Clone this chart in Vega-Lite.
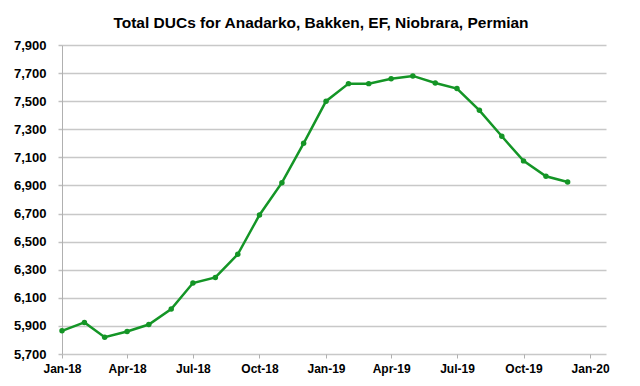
{
  "$schema": "https://vega.github.io/schema/vega-lite/v6.json",
  "width": 544,
  "height": 309,
  "autosize": "none",
  "padding": {"left": 62, "top": 45, "right": 34, "bottom": 32},
  "background": "white",
  "title": {
    "text": "Total DUCs for Anadarko, Bakken, EF, Niobrara, Permian",
    "font": "Liberation Sans",
    "fontSize": 15.5,
    "fontWeight": "bold",
    "color": "#000000",
    "anchor": "middle",
    "frame": "group",
    "baseline": "alphabetic",
    "offset": -4,
    "dx": -13
  },
  "data": {
    "values": [
      {"month": "2018/01/01", "ducs": 5865},
      {"month": "2018/02/01", "ducs": 5925},
      {"month": "2018/03/01", "ducs": 5820},
      {"month": "2018/04/01", "ducs": 5860},
      {"month": "2018/05/01", "ducs": 5910},
      {"month": "2018/06/01", "ducs": 6020},
      {"month": "2018/07/01", "ducs": 6205},
      {"month": "2018/08/01", "ducs": 6245},
      {"month": "2018/09/01", "ducs": 6410},
      {"month": "2018/10/01", "ducs": 6690},
      {"month": "2018/11/01", "ducs": 6920},
      {"month": "2018/12/01", "ducs": 7200},
      {"month": "2019/01/01", "ducs": 7500},
      {"month": "2019/02/01", "ducs": 7625},
      {"month": "2019/03/01", "ducs": 7625},
      {"month": "2019/04/01", "ducs": 7660},
      {"month": "2019/05/01", "ducs": 7680},
      {"month": "2019/06/01", "ducs": 7630},
      {"month": "2019/07/01", "ducs": 7590},
      {"month": "2019/08/01", "ducs": 7435},
      {"month": "2019/09/01", "ducs": 7250},
      {"month": "2019/10/01", "ducs": 7075},
      {"month": "2019/11/01", "ducs": 6965},
      {"month": "2019/12/01", "ducs": 6925}
    ]
  },
  "encoding": {
    "x": {
      "field": "month",
      "type": "temporal",
      "scale": {
        "domain": [
          {"year": 2018, "month": 1, "date": 1},
          {"year": 2020, "month": 1, "date": 23}
        ]
      },
      "axis": {
        "title": null,
        "format": "%b-%y",
        "values": [
          {"year": 2018, "month": 1, "date": 1},
          {"year": 2018, "month": 4, "date": 1},
          {"year": 2018, "month": 7, "date": 1},
          {"year": 2018, "month": 10, "date": 1},
          {"year": 2019, "month": 1, "date": 1},
          {"year": 2019, "month": 4, "date": 1},
          {"year": 2019, "month": 7, "date": 1},
          {"year": 2019, "month": 10, "date": 1},
          {"year": 2020, "month": 1, "date": 1}
        ],
        "grid": false,
        "domain": false,
        "ticks": true,
        "tickSize": 4,
        "tickColor": "#b0b0b0",
        "labelFont": "Liberation Sans",
        "labelFontSize": 12,
        "labelFontWeight": "bold",
        "labelColor": "#000000",
        "labelPadding": 5,
        "labelFlush": false,
        "labelOverlap": false
      }
    },
    "y": {
      "field": "ducs",
      "type": "quantitative",
      "scale": {"domain": [5700, 7900], "nice": false, "zero": false},
      "axis": {
        "title": null,
        "values": [5700, 5900, 6100, 6300, 6500, 6700, 6900, 7100, 7300, 7500, 7700, 7900],
        "format": ",d",
        "grid": true,
        "gridColor": "#c8c8c8",
        "gridWidth": 1.5,
        "domain": true,
        "domainColor": "#b0b0b0",
        "domainWidth": 1,
        "tickSize": 4,
        "tickColor": "#c0c0c0",
        "tickWidth": 1.5,
        "labelFont": "Liberation Sans",
        "labelFontSize": 13,
        "labelFontWeight": "bold",
        "labelColor": "#000000",
        "labelPadding": 12,
        "labelFlush": false,
        "labelOverlap": false
      }
    }
  },
  "layer": [
    {
      "mark": {"type": "line", "color": "#149526", "strokeWidth": 2.5}
    },
    {
      "mark": {"type": "point", "filled": true, "color": "#149526", "size": 30, "opacity": 1}
    }
  ],
  "config": {"view": {"stroke": null}}
}
